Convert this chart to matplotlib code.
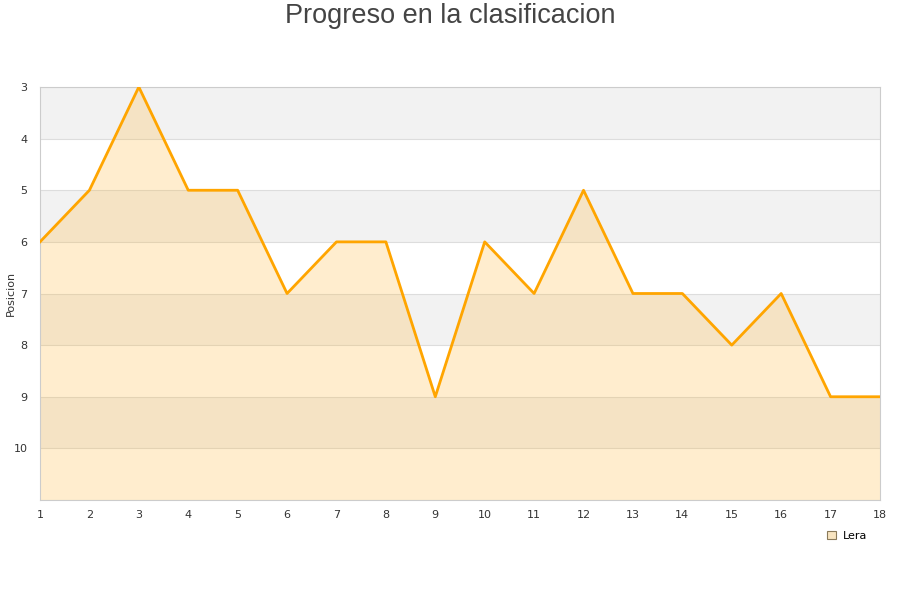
import matplotlib
matplotlib.use("Agg")
import matplotlib.pyplot as plt
from matplotlib.patches import Rectangle

jornadas = list(range(1, 19))
posiciones = [6, 5, 3, 5, 5, 7, 6, 6, 9, 6, 7, 5, 7, 7, 8, 7, 9, 9]
y_ticks = [3, 4, 5, 6, 7, 8, 9, 10]
serie = "Lera"

fig = plt.figure(figsize=(9, 6), dpi=100)
ax = fig.add_axes([40/900, 100/600, 840/900, 413/600])

ymin, ymax = 3, 11
for i, y0 in enumerate(range(ymin, ymax)):
    if i % 2 == 0:
        ax.axhspan(y0, y0 + 1, color="#f2f2f2", zorder=0, lw=0)
for y in range(ymin, ymax + 1):
    ax.axhline(y, color="#dddddd", lw=0.8, zorder=1)

ax.fill_between(jornadas, posiciones, ymax, color="#ffb52e", alpha=0.23, zorder=2, lw=0)
ax.plot(jornadas, posiciones, color="#ffa500", lw=2, zorder=3)

ax.set_xlim(1, 18)
ax.set_ylim(ymax, ymin)
ax.set_xticks(jornadas)
ax.set_yticks(y_ticks)
ax.tick_params(axis="both", length=0, labelsize=8, colors="#333333")
ax.tick_params(axis="y", pad=9)
ax.tick_params(axis="x", pad=7)
for s in ax.spines.values():
    s.set_color("#cccccc")
    s.set_linewidth(0.8)

fig.text(11/900, 1 - 293/600, "Posicion", rotation=90, ha="center", va="center",
         fontsize=8, color="#333333")

fig.text(0.5, 1 - 16/600, "Progreso en la clasificacion", ha="center", va="center",
         fontsize=19.5, color="#444444", family=["Liberation Sans", "DejaVu Sans"])

handle = Rectangle((0, 0), 1, 1, facecolor="#f8e4c0", edgecolor="#8a7a5a", lw=0.8)
fig.legend([handle], [serie], loc="center", bbox_to_anchor=(847/900, 1 - 536/600),
           frameon=False, fontsize=8, handlelength=0.8, handleheight=0.8,
           handletextpad=0.6)

fig.savefig("out.png", dpi=100)
